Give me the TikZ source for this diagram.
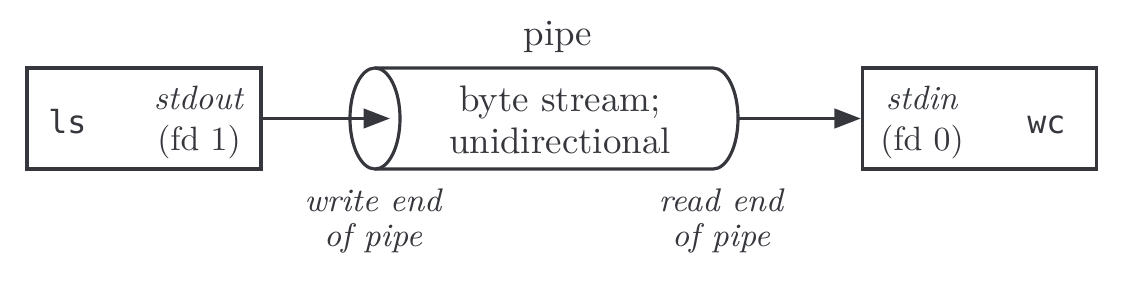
\documentclass[tikz,border=0pt]{standalone}
\usepackage{fontspec}
\setmonofont{DejaVu Sans Mono}
\usetikzlibrary{arrows.meta,positioning}
\definecolor{encre}{HTML}{35373D}
\tikzset{
  boite/.style={draw=encre, line width=0.9pt, minimum width=2.34cm, minimum height=1.01cm},
  texte/.style={text=encre, align=center, font=\fontsize{9.6}{11.4}\selectfont},
  grand/.style={text=encre, align=center, font=\fontsize{10.5}{12}\selectfont},
  bout/.style={text=encre, align=center, font=\itshape\fontsize{9.3}{10.2}\selectfont},
  prog/.style={text=encre, font=\ttfamily\fontsize{9}{10}\selectfont},
  fleche/.style={-{Triangle[length=7.5pt,width=5.5pt]}, draw=encre, line width=0.9pt}
}

\begin{document}
\begin{tikzpicture}[x=0.01cm,y=0.01cm]
  \useasboundingbox (0,0) rectangle (1123,284);
  % processus
  \node [boite] (boite1) at (144,165.5) {};
  \node [boite] (boite2) at (979.5,165.5) {};
  \node [prog, anchor=base] (ls) at (67.5,151) {ls};
  \node [prog, anchor=base] (wc) at (1046.5,151) {wc};
  \node [texte] (sortie) at (199,161.5) {\textit{stdout}\\(fd 1)};
  \node [texte] (entree) at (922,161.5) {\textit{stdin}\\(fd 0)};
  % tube
  \coordinate (ecriture) at (375,165.5);
  \coordinate (pointe) at (390,165.5);
  \coordinate (sortietube) at (738,165.5);
  \draw [encre, line width=0.9pt] (ecriture) ellipse [x radius=0.25cm, y radius=0.505cm];
  \draw [encre, line width=0.9pt] (375,216) -- (713,216)
        arc [start angle=90, end angle=-90, x radius=0.25cm, y radius=0.505cm] -- (375,115);
  \node [grand] (tube) at (560,164) {byte stream;\\unidirectional};
  \node [grand, anchor=base] (titre) at (558,239) {pipe};
  \node [bout] (bout1) at (373,63) {write end\\of pipe};
  \node [bout] (bout2) at (721,63) {read end\\of pipe};
  \draw [fleche] (boite1.east) -- (pointe);
  \draw [fleche] (sortietube) -- (boite2.west);
\end{tikzpicture}
\end{document}
